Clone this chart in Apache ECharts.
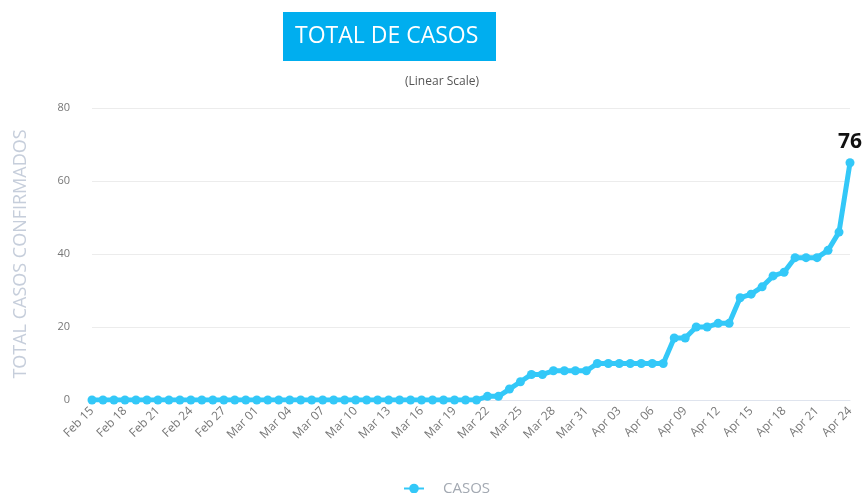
<!DOCTYPE html>
<html>
<head>
<meta charset="utf-8">
<title>TOTAL DE CASOS</title>
<script src="https://cdn.jsdelivr.net/npm/echarts@6/dist/echarts.min.js"></script>
<style>
  html, body { margin: 0; padding: 0; background: #fff; }
  #chart { width: 866px; height: 493px; }
</style>
</head>
<body>
<div id="chart"></div>
<script>
// fechas (Feb 15 .. Apr 24, 2020)
const fechas = [
  'Feb 15', 'Feb 16', 'Feb 17', 'Feb 18', 'Feb 19', 'Feb 20', 'Feb 21', 'Feb 22', 'Feb 23', 'Feb 24',
  'Feb 25', 'Feb 26', 'Feb 27', 'Feb 28', 'Feb 29',
  'Mar 01', 'Mar 02', 'Mar 03', 'Mar 04', 'Mar 05', 'Mar 06', 'Mar 07', 'Mar 08', 'Mar 09', 'Mar 10',
  'Mar 11', 'Mar 12', 'Mar 13', 'Mar 14', 'Mar 15', 'Mar 16', 'Mar 17', 'Mar 18', 'Mar 19', 'Mar 20',
  'Mar 21', 'Mar 22', 'Mar 23', 'Mar 24', 'Mar 25', 'Mar 26', 'Mar 27', 'Mar 28', 'Mar 29', 'Mar 30',
  'Mar 31',
  'Apr 01', 'Apr 02', 'Apr 03', 'Apr 04', 'Apr 05', 'Apr 06', 'Apr 07', 'Apr 08', 'Apr 09', 'Apr 10',
  'Apr 11', 'Apr 12', 'Apr 13', 'Apr 14', 'Apr 15', 'Apr 16', 'Apr 17', 'Apr 18', 'Apr 19', 'Apr 20',
  'Apr 21', 'Apr 22', 'Apr 23', 'Apr 24'
]

// casos confirmados acumulados
const casos = [
  0, 0, 0, 0, 0, 0, 0, 0, 0, 0,
  0, 0, 0, 0, 0,
  0, 0, 0, 0, 0, 0, 0, 0, 0, 0,
  0, 0, 0, 0, 0, 0, 0, 0, 0, 0,
  0, 1, 1, 3, 5, 7, 7, 8, 8, 8,
  8,
  10, 10, 10, 10, 10, 10, 10, 17, 17, 20,
  20, 21, 21, 28, 29, 31, 34, 35, 39, 39,
  39, 41, 46, 65
]

// etiqueta del ultimo punto
const ultimaEtiqueta = '76'

const yTicks = [0, 20, 40, 60, 80]

const azul = '#33c8f8'
const fuente = '"Open Sans", "Noto Sans", sans-serif'

const chart = echarts.init(document.getElementById('chart'))

const serieData = casos.map((v, i) => {
  if (i !== casos.length - 1) return v
  return {
    value: v,
    label: {
      show: true,
      position: 'top',
      distance: 6,
      formatter: ultimaEtiqueta,
      fontSize: 21,
      fontWeight: 'bold',
      color: '#111',
      fontFamily: fuente
    }
  }
})

const option = {
  animation: false,
  backgroundColor: '#fff',
  textStyle: { fontFamily: fuente },
  title: [
    {
      text: 'TOTAL DE CASOS',
      left: 283,
      top: 12,
      padding: [11, 12, 11, 12],
      backgroundColor: '#00aeef',
      textStyle: {
        color: '#fff',
        fontSize: 23,
        fontWeight: 'normal',
        fontFamily: fuente,
        width: 189,
        height: 27,
        lineHeight: 27
      }
    },
    {
      text: '(Linear Scale)',
      left: 437,
      textAlign: 'center',
      top: 71,
      textStyle: {
        color: '#555',
        fontSize: 12,
        fontWeight: 'normal',
        fontFamily: fuente
      }
    }
  ],
  legend: {
    top: 476,
    left: 398,
    itemWidth: 20,
    itemHeight: 12,
    data: ['CASOS'],
    textStyle: {
      color: '#a3a9b2',
      fontSize: 15,
      fontFamily: fuente,
      padding: [0, 0, 0, 14]
    }
  },
  grid: {
    left: 92,
    right: 16,
    top: 108,
    bottom: 93
  },
  xAxis: {
    type: 'category',
    boundaryGap: false,
    data: fechas,
    axisLine: { lineStyle: { color: '#dfe4ee' } },
    axisTick: { show: false },
    axisLabel: {
      interval: 2,
      rotate: 45,
      color: '#777',
      fontSize: 12,
      margin: 9,
      fontFamily: fuente
    }
  },
  yAxis: {
    type: 'value',
    min: yTicks[0],
    max: yTicks[yTicks.length - 1],
    interval: 20,
    name: 'TOTAL CASOS CONFIRMADOS',
    nameLocation: 'middle',
    nameGap: 62,
    nameTextStyle: { color: '#c6cedb', fontSize: 18, fontFamily: fuente },
    axisLine: { show: false },
    axisTick: { show: false },
    axisLabel: { color: '#777', fontSize: 11, margin: 22, fontFamily: fuente },
    splitLine: { lineStyle: { color: '#ececec' } }
  },
  series: [
    {
      name: 'CASOS',
      type: 'line',
      data: serieData,
      symbol: 'circle',
      symbolSize: 9,
      showAllSymbol: true,
      itemStyle: { color: azul },
      lineStyle: { color: azul, width: 5 }
    }
  ]
}

chart.setOption(option)
</script>
</body>
</html>
